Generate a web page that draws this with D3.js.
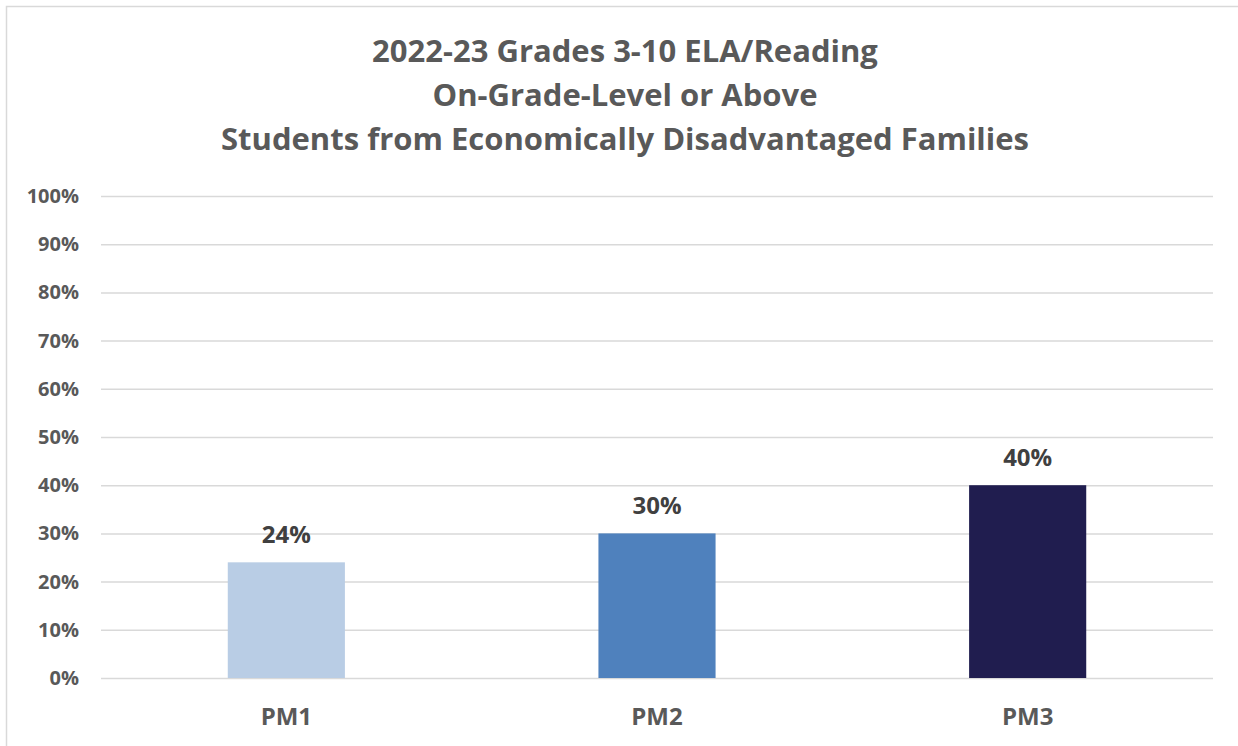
<!DOCTYPE html>
<html>
<head>
<meta charset="utf-8">
<script src="https://cdn.jsdelivr.net/npm/d3@7"></script>
<style>
  body { margin: 0; background: #fff; }
  text { font-family: "Open Sans", Lato, sans-serif; font-weight: bold; }
</style>
</head>
<body>
<div id="chart"></div>
<script>
// chart data
var categories = ["PM1", "PM2", "PM3"];
var values = [0.24, 0.30, 0.40];
var barColors = ["#B9CDE5", "#4F81BD", "#201D4F"];
var yTicks = [0, 0.1, 0.2, 0.3, 0.4, 0.5, 0.6, 0.7, 0.8, 0.9, 1.0];
var titleLines = ["2022-23 Grades 3-10 ELA/Reading", "On-Grade-Level or Above", "Students from Economically Disadvantaged Families"];

var width = 1238, height = 746;
var plot = { left: 101, right: 1213, top: 196, bottom: 678 };

var svg = d3.select("#chart").append("svg")
    .attr("width", width)
    .attr("height", height);

// chart area border
svg.append("rect")
    .attr("x", 6.5).attr("y", 6.5)
    .attr("width", 1240).attr("height", 760)
    .attr("fill", "none")
    .attr("stroke", "#D9D9D9")
    .attr("stroke-width", 1.5);

var x = d3.scaleBand()
    .domain(categories)
    .range([plot.left, plot.right])
    .paddingInner(0.684)
    .paddingOuter(0.342);

var y = d3.scaleLinear()
    .domain([0, 1])
    .range([plot.bottom, plot.top]);

// title
svg.append("g").selectAll("text")
    .data(titleLines)
    .enter().append("text")
    .attr("x", 625)
    .attr("y", function(d, i) { return 62 + i * 44; })
    .attr("text-anchor", "middle")
    .attr("fill", "#595959")
    .style("font-size", "31px")
    .text(function(d) { return d; });

// gridlines + y labels
var yAxis = d3.axisLeft(y)
    .tickValues(yTicks)
    .tickFormat(d3.format(".0%"))
    .tickSize(-(plot.right - plot.left))
    .tickPadding(22);

var gy = svg.append("g")
    .attr("transform", "translate(" + plot.left + ",0)")
    .call(yAxis);
gy.select(".domain").remove();
gy.selectAll("line").attr("stroke", "#D9D9D9").attr("stroke-width", 1.5);
gy.selectAll("text")
    .attr("fill", "#595959")
    .style("font-size", "20px")
    .attr("font-family", null);

// bars
svg.append("g").selectAll("rect")
    .data(values)
    .enter().append("rect")
    .attr("x", function(d, i) { return x(categories[i]); })
    .attr("y", function(d) { return y(d); })
    .attr("width", x.bandwidth())
    .attr("height", function(d) { return y(0) - y(d); })
    .attr("fill", function(d, i) { return barColors[i]; });

// data labels
svg.append("g").selectAll("text")
    .data(values)
    .enter().append("text")
    .attr("x", function(d, i) { return x(categories[i]) + x.bandwidth() / 2; })
    .attr("y", function(d) { return y(d) - 19; })
    .attr("text-anchor", "middle")
    .attr("fill", "#404040")
    .style("font-size", "24px")
    .text(function(d) { return d3.format(".0%")(d); });

// category axis
var xAxis = d3.axisBottom(x).tickSize(0).tickPadding(0);
var gx = svg.append("g")
    .attr("transform", "translate(0," + plot.bottom + ")")
    .call(xAxis);
gx.select(".domain").remove();
gx.selectAll("text")
    .attr("fill", "#595959")
    .attr("dy", null)
    .attr("y", 47)
    .style("font-size", "24px")
    .attr("font-family", null);
</script>
</body>
</html>
